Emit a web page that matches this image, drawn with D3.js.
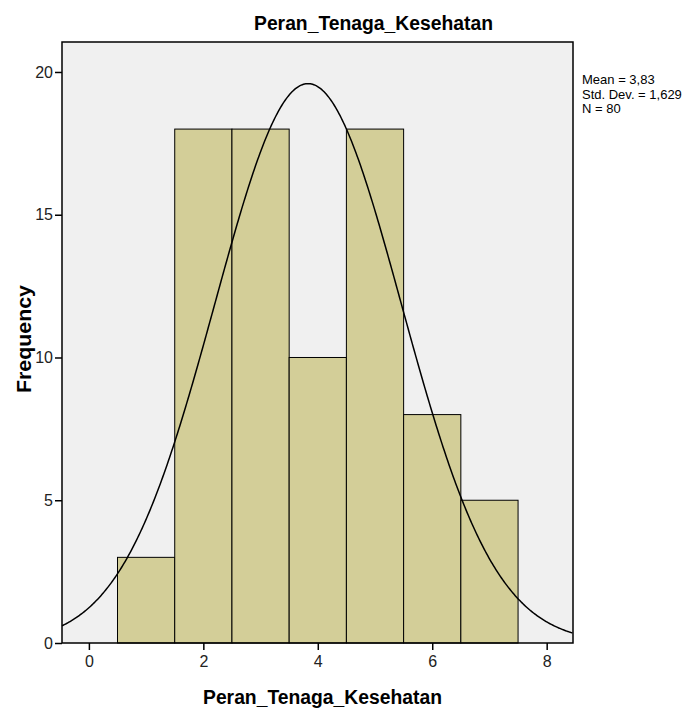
<!DOCTYPE html>
<html>
<head>
<meta charset="utf-8">
<script src="https://cdn.jsdelivr.net/npm/d3@7"></script>
<style>
  body { margin: 0; background: #fff; }
  text { font-family: "Liberation Sans", Arial, sans-serif; }
</style>
</head>
<body>
<script>
// histogram data
var binMids = [1, 2, 3, 4, 5, 6, 7];
var counts = [3, 18, 18, 10, 18, 8, 5];
var xTicks = [0, 2, 4, 6, 8];
var yTicks = [0, 5, 10, 15, 20];
var mean = 3.83, sd = 1.629, n = 80;
var statLines = ["Mean = 3,83", "Std. Dev. = 1,629", "N = 80"];

var svg = d3.select("body")
  .append("svg")
  .attr("width", 688)
  .attr("height", 711);

// plot box (window.top is reserved, so use other names)
var pLeft = 62, pRight = 573, pTop = 42, pBottom = 643;
var narrow = "'Liberation Sans Narrow', 'Liberation Sans', Arial, sans-serif";

var x = d3.scaleLinear().domain([-0.47, 8.46]).range([pLeft, pRight]);
var y = d3.scaleLinear().domain([0, 21.05]).range([pBottom, pTop]);

// plot background
svg.append("rect")
  .attr("x", pLeft)
  .attr("y", pTop)
  .attr("width", pRight - pLeft)
  .attr("height", pBottom - pTop)
  .style("fill", "#f0f0f0");

// bars
svg.selectAll(".bar")
  .data(binMids)
  .enter().append("rect")
  .attr("x", function(d) { return x(d - 0.5); })
  .attr("y", function(d, i) { return y(counts[i]); })
  .attr("width", function(d) { return x(d + 0.5) - x(d - 0.5); })
  .attr("height", function(d, i) { return y(0) - y(counts[i]); })
  .style("fill", "#d3ce98")
  .style("stroke", "#000")
  .style("stroke-width", 1);

// normal curve
var curvePts = d3.range(-0.47, 8.461, 0.02).map(function(v) {
  var z = (v - mean) / sd;
  return [v, n * Math.exp(-0.5 * z * z) / (sd * Math.sqrt(2 * Math.PI))];
});
svg.append("path")
  .datum(curvePts)
  .attr("d", d3.line().x(function(d) { return x(d[0]); }).y(function(d) { return y(d[1]); }))
  .style("fill", "none")
  .style("stroke", "#000")
  .style("stroke-width", 1.5);

// frame
svg.append("rect")
  .attr("x", pLeft)
  .attr("y", pTop)
  .attr("width", pRight - pLeft)
  .attr("height", pBottom - pTop)
  .style("fill", "none")
  .style("stroke", "#000")
  .style("stroke-width", 1.5);

// axes
var xAxis = svg.append("g")
  .attr("transform", "translate(0," + pBottom + ")")
  .call(d3.axisBottom(x).tickValues(xTicks).tickSize(7).tickPadding(6));
var yAxis = svg.append("g")
  .attr("transform", "translate(" + pLeft + ",0)")
  .call(d3.axisLeft(y).tickValues(yTicks).tickSize(7).tickPadding(2));
[xAxis, yAxis].forEach(function(g) {
  g.select(".domain").remove();
  g.selectAll("line").style("stroke", "#000").style("stroke-width", 1.5);
  g.selectAll("text")
    .style("font-family", narrow)
    .style("font-size", "16px")
    .style("fill", "#222");
});

// title
svg.append("text")
  .attr("x", 254)
  .attr("y", 29.5)
  .attr("textLength", 239)
  .attr("lengthAdjust", "spacingAndGlyphs")
  .style("font-size", "19.5px")
  .style("font-weight", "bold")
  .text("Peran_Tenaga_Kesehatan");

// x label
svg.append("text")
  .attr("x", 203)
  .attr("y", 704)
  .attr("textLength", 239)
  .attr("lengthAdjust", "spacingAndGlyphs")
  .style("font-size", "19.5px")
  .style("font-weight", "bold")
  .text("Peran_Tenaga_Kesehatan");

// y label
svg.append("text")
  .attr("transform", "translate(31,393) rotate(-90)")
  .attr("textLength", 108)
  .attr("lengthAdjust", "spacingAndGlyphs")
  .style("font-size", "19.5px")
  .style("font-weight", "bold")
  .text("Frequency");

// stats
svg.selectAll(".stat")
  .data(statLines)
  .enter().append("text")
  .attr("x", 582)
  .attr("y", function(d, i) { return 84 + i * 14.5; })
  .style("font-family", narrow)
  .style("font-size", "13px")
  .text(function(d) { return d; });
</script>
</body>
</html>
